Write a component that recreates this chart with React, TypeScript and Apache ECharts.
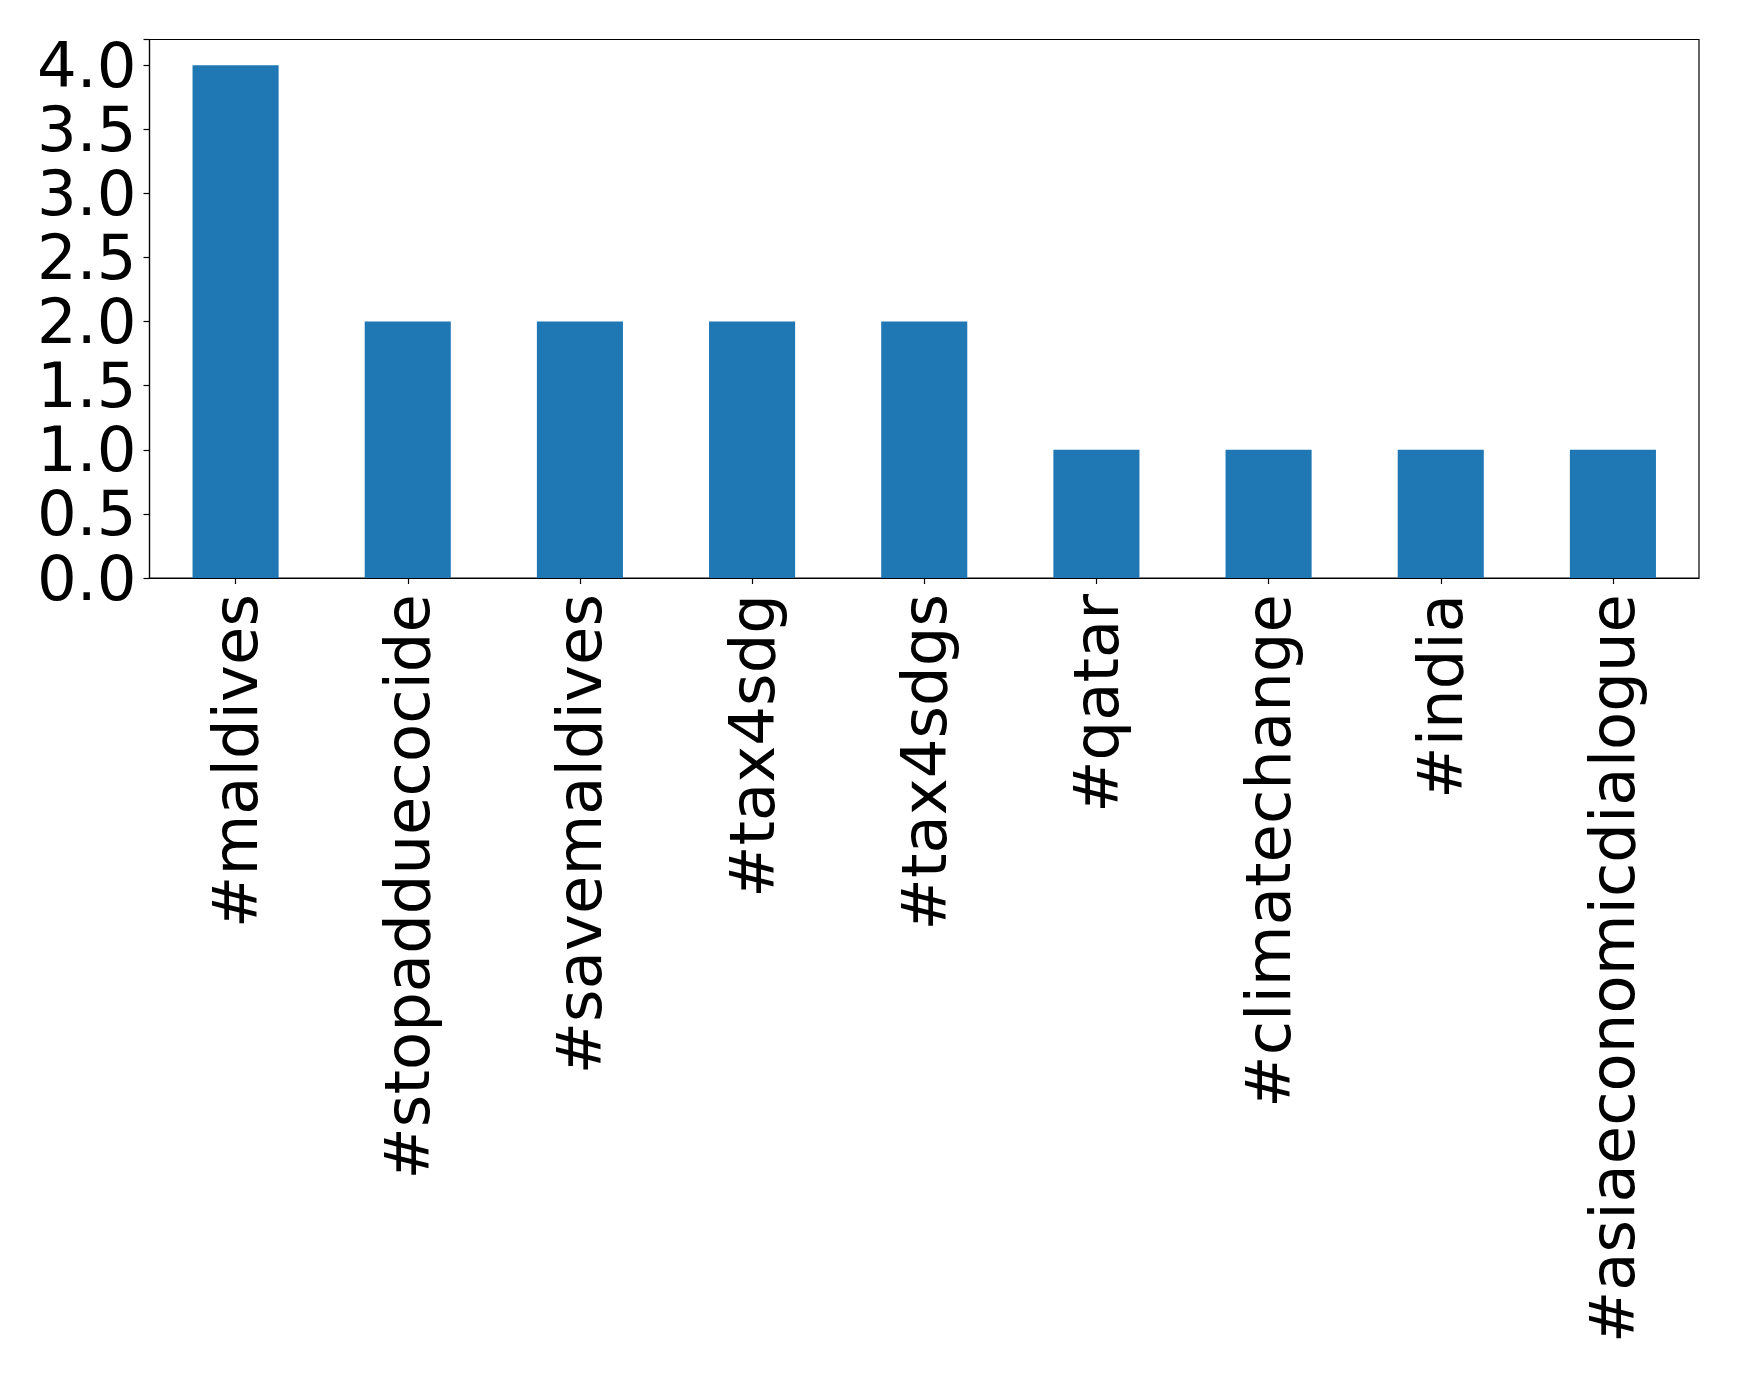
import React, { useEffect, useRef } from "react";
import * as echarts from "echarts";

const categories = [
  "#maldives",
  "#stopadduecocide",
  "#savemaldives",
  "#tax4sdg",
  "#tax4sdgs",
  "#qatar",
  "#climatechange",
  "#india",
  "#asiaeconomicdialogue",
];
const values = [4, 2, 2, 2, 2, 1, 1, 1, 1];
const yTicks = [0, 0.5, 1, 1.5, 2, 2.5, 3, 3.5, 4];

export default function App() {
  const ref = useRef<HTMLDivElement>(null);
  useEffect(() => {
    document.body.style.margin = "0";
    const chart = echarts.init(ref.current!, null, { renderer: "svg" });
    const font = "DejaVu Sans";
    chart.setOption({
      animation: false,
      backgroundColor: "#ffffff",
      grid: {
        left: 149.5,
        top: 39.5,
        width: 1549.5,
        height: 538.5,
        show: true,
        borderColor: "#000000",
        borderWidth: 1.2,
        containLabel: false,
      },
      xAxis: {
        type: "category",
        data: categories,
        boundaryGap: true,
        axisLine: { show: true, lineStyle: { color: "#000", width: 1.2 } },
        axisTick: {
          show: true,
          alignWithLabel: true,
          length: 6,
          lineStyle: { color: "#000", width: 1.2 },
        },
        axisLabel: {
          rotate: 90,
          interval: 0,
          margin: 16,
          fontFamily: font,
          fontSize: 62.5,
          color: "#000",
        },
      },
      yAxis: {
        type: "value",
        min: 0,
        max: 4.2,
        interval: 0.5,
        splitLine: { show: false },
        axisLine: { show: true, lineStyle: { color: "#000", width: 1.2 } },
        axisTick: { show: true, length: 6, lineStyle: { color: "#000", width: 1.2 } },
        axisLabel: {
          margin: 13,
          fontFamily: font,
          fontSize: 62.5,
          lineHeight: 56,
          color: "#000",
          formatter: (v: number) =>
            yTicks.some((t) => Math.abs(t - v) < 1e-9) ? v.toFixed(1) : "",
        },
      },
      series: [
        {
          type: "bar",
          data: values,
          barWidth: "50%",
          itemStyle: { color: "#1f77b4" },
        },
      ],
    });
    return () => chart.dispose();
  }, []);
  return <div ref={ref} style={{ width: 1739, height: 1377 }} />;
}
